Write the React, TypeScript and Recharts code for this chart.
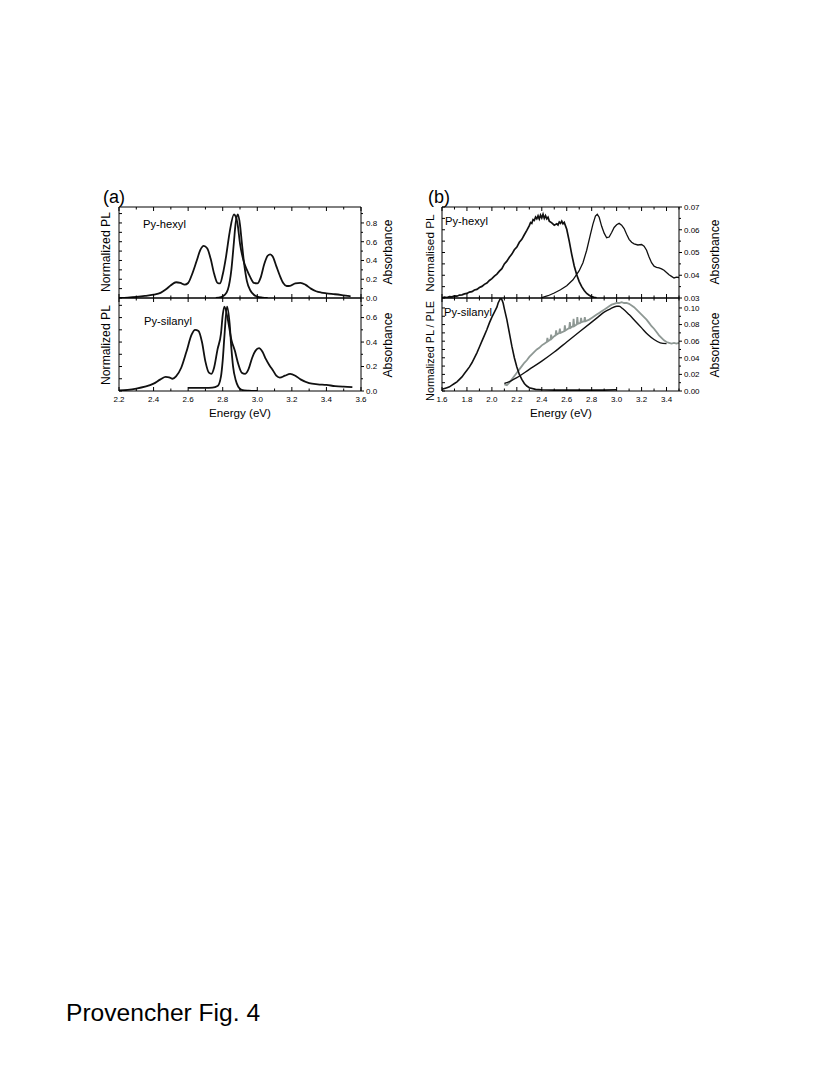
import React from 'react';
import { LineChart, Line, XAxis, YAxis } from 'recharts';

const FONT = '"Liberation Sans", Arial, Helvetica, sans-serif';

// ---- panel (a): Py-hexyl, energy (eV) / value ----
const aHexylBroad: [number, number][] = [
  [2.2, 0.0], [2.25, 0.005], [2.3, 0.012], [2.35, 0.022], [2.4, 0.036], [2.44, 0.055],
  [2.47, 0.09], [2.5, 0.135], [2.53, 0.168], [2.555, 0.16], [2.58, 0.142], [2.6, 0.16],
  [2.62, 0.24], [2.65, 0.4], [2.67, 0.51], [2.69, 0.555], [2.71, 0.53], [2.73, 0.42],
  [2.75, 0.26], [2.77, 0.16], [2.785, 0.155], [2.8, 0.25], [2.82, 0.45], [2.84, 0.7],
  [2.865, 0.89], [2.885, 0.8], [2.9, 0.58], [2.92, 0.4], [2.94, 0.3], [2.96, 0.22],
  [2.98, 0.16], [3.0, 0.155], [3.02, 0.22], [3.04, 0.36], [3.06, 0.45], [3.075, 0.466],
  [3.09, 0.44], [3.11, 0.34], [3.13, 0.24], [3.15, 0.16], [3.17, 0.128], [3.19, 0.13],
  [3.22, 0.155], [3.25, 0.162], [3.28, 0.14], [3.31, 0.1], [3.34, 0.072], [3.37, 0.058],
  [3.4, 0.05], [3.45, 0.04], [3.5, 0.028], [3.54, 0.018],
];
const aHexylNarrow: [number, number][] = [
  [2.76, 0.0], [2.79, 0.01], [2.81, 0.03], [2.83, 0.09], [2.85, 0.3], [2.865, 0.6],
  [2.875, 0.8], [2.888, 0.89], [2.9, 0.78], [2.91, 0.6], [2.925, 0.35], [2.94, 0.18],
  [2.96, 0.08], [2.98, 0.035], [3.0, 0.015], [3.03, 0.005], [3.06, 0.0],
];

// ---- panel (a): Py-silanyl ----
const aSilanylBroad: [number, number][] = [
  [2.2, 0.005], [2.25, 0.01], [2.3, 0.02], [2.35, 0.035], [2.4, 0.06], [2.44, 0.095],
  [2.47, 0.115], [2.49, 0.112], [2.51, 0.1], [2.53, 0.12], [2.56, 0.19], [2.59, 0.32],
  [2.62, 0.46], [2.64, 0.5], [2.66, 0.49], [2.68, 0.4], [2.7, 0.24], [2.72, 0.15],
  [2.735, 0.14], [2.75, 0.19], [2.77, 0.34], [2.79, 0.47], [2.8, 0.62], [2.81, 0.69],
  [2.83, 0.58], [2.85, 0.42], [2.87, 0.33], [2.89, 0.22], [2.91, 0.15], [2.93, 0.14],
  [2.95, 0.18], [2.97, 0.27], [2.99, 0.33], [3.01, 0.35], [3.03, 0.32], [3.05, 0.26],
  [3.07, 0.21], [3.09, 0.17], [3.11, 0.125], [3.13, 0.11], [3.16, 0.125], [3.19, 0.14],
  [3.22, 0.125], [3.25, 0.095], [3.3, 0.065], [3.35, 0.055], [3.4, 0.05], [3.45, 0.04],
  [3.5, 0.035], [3.55, 0.032],
];
const aSilanylNarrow: [number, number][] = [
  [2.6, 0.025], [2.65, 0.025], [2.7, 0.025], [2.74, 0.027], [2.77, 0.04], [2.79, 0.12],
  [2.8, 0.25], [2.81, 0.45], [2.825, 0.69], [2.84, 0.55], [2.85, 0.35], [2.86, 0.2],
  [2.875, 0.09], [2.89, 0.035], [2.91, 0.01], [2.95, 0.003], [3.0, 0.0],
];

// ---- panel (b): Py-hexyl ----
const bHexylPL: [number, number][] = [
  [1.6, 0.0301], [1.62, 0.0304], [1.64, 0.0302], [1.66, 0.0306], [1.68, 0.0305], [1.7, 0.0309],
  [1.72, 0.0308], [1.74, 0.0313], [1.76, 0.0314], [1.78, 0.0318], [1.8, 0.032], [1.82, 0.0326],
  [1.84, 0.0328], [1.86, 0.0335], [1.88, 0.0338], [1.9, 0.0346], [1.92, 0.0351], [1.94, 0.036],
  [1.96, 0.0366], [1.98, 0.0377], [2.0, 0.0385], [2.02, 0.0396], [2.04, 0.0405], [2.06, 0.0418],
  [2.08, 0.0429], [2.1, 0.045], [2.12, 0.0462], [2.14, 0.0479], [2.16, 0.0493], [2.18, 0.0512],
  [2.2, 0.0524], [2.22, 0.0545], [2.24, 0.0558], [2.26, 0.0578], [2.28, 0.0597], [2.3, 0.0618],
  [2.31, 0.0632], [2.32, 0.0628], [2.33, 0.0645], [2.34, 0.0641], [2.35, 0.0656], [2.36, 0.0648],
  [2.37, 0.0661], [2.38, 0.0647], [2.39, 0.0664], [2.4, 0.0652], [2.41, 0.0668], [2.42, 0.065],
  [2.43, 0.0662], [2.44, 0.0648], [2.45, 0.0655], [2.46, 0.0638], [2.48, 0.063], [2.5, 0.062],
  [2.52, 0.0626], [2.53, 0.0621], [2.54, 0.0634], [2.55, 0.0628], [2.56, 0.0638], [2.57, 0.0626],
  [2.58, 0.0632], [2.6, 0.0602], [2.62, 0.055], [2.64, 0.0492], [2.66, 0.0441],
  [2.68, 0.0402], [2.7, 0.0372], [2.72, 0.035], [2.74, 0.0333], [2.76, 0.032], [2.78, 0.0312],
  [2.8, 0.0306], [2.82, 0.0303], [2.84, 0.0301],
];
const bHexylAbs: [number, number][] = [
  [2.4, 0.0302], [2.45, 0.031], [2.5, 0.0322], [2.55, 0.0336], [2.6, 0.0354], [2.65, 0.038],
  [2.7, 0.042], [2.73, 0.0455], [2.76, 0.051], [2.79, 0.058], [2.81, 0.0625], [2.83, 0.066],
  [2.845, 0.0668], [2.86, 0.0655], [2.88, 0.0615], [2.9, 0.0585], [2.92, 0.0565], [2.94, 0.0568],
  [2.96, 0.0588], [2.98, 0.061], [3.0, 0.0622], [3.02, 0.0628], [3.04, 0.062], [3.06, 0.0605],
  [3.08, 0.058], [3.1, 0.0558], [3.12, 0.0545], [3.14, 0.0538], [3.17, 0.0533], [3.2, 0.0535],
  [3.22, 0.0528], [3.24, 0.051], [3.26, 0.048], [3.28, 0.0455], [3.3, 0.044], [3.32, 0.0435],
  [3.34, 0.0432], [3.36, 0.0428], [3.38, 0.0422], [3.4, 0.0412], [3.42, 0.0402], [3.44, 0.0395],
  [3.46, 0.0388], [3.48, 0.0392], [3.5, 0.039],
];

// ---- panel (b): Py-silanyl ----
const bSilanylPL: [number, number][] = [
  [1.6, 0.002], [1.62, 0.003], [1.64, 0.004], [1.66, 0.005], [1.68, 0.007], [1.7, 0.009],
  [1.72, 0.011], [1.74, 0.014], [1.76, 0.017], [1.78, 0.021], [1.8, 0.025], [1.82, 0.029],
  [1.84, 0.034], [1.86, 0.04], [1.88, 0.046], [1.9, 0.053], [1.92, 0.06], [1.94, 0.067],
  [1.96, 0.074], [1.98, 0.082], [2.0, 0.089], [2.02, 0.095], [2.04, 0.101], [2.05, 0.106],
  [2.06, 0.109], [2.07, 0.112], [2.08, 0.11], [2.09, 0.106], [2.1, 0.099], [2.12, 0.086],
  [2.14, 0.07], [2.16, 0.054], [2.18, 0.04], [2.2, 0.029], [2.22, 0.02], [2.24, 0.014],
  [2.26, 0.009], [2.28, 0.006], [2.3, 0.004], [2.35, 0.002], [2.4, 0.0015], [2.5, 0.001],
  [2.6, 0.0012], [2.7, 0.001], [2.8, 0.0012], [2.9, 0.001], [3.0, 0.0015],
];
const bSilanylAbs: [number, number][] = [
  [2.1, 0.009], [2.12, 0.01], [2.15, 0.012], [2.2, 0.016], [2.3, 0.026], [2.4, 0.036],
  [2.5, 0.047], [2.6, 0.059], [2.7, 0.071], [2.8, 0.083], [2.85, 0.089], [2.9, 0.095],
  [2.95, 0.099], [3.0, 0.102], [3.02, 0.102], [3.05, 0.099], [3.1, 0.092], [3.15, 0.084],
  [3.2, 0.076], [3.25, 0.068], [3.3, 0.062], [3.35, 0.058], [3.4, 0.057],
];
const bSilanylPLE: [number, number][] = [
  [2.1, 0.008], [2.12, 0.007], [2.14, 0.01], [2.16, 0.014], [2.18, 0.018], [2.2, 0.022],
  [2.22, 0.026], [2.24, 0.03], [2.26, 0.034], [2.28, 0.037], [2.3, 0.041], [2.32, 0.044],
  [2.34, 0.047], [2.36, 0.05], [2.38, 0.052], [2.4, 0.055], [2.42, 0.057], [2.44, 0.059],
  [2.445, 0.064], [2.45, 0.06], [2.47, 0.062], [2.475, 0.068], [2.48, 0.063], [2.5, 0.066],
  [2.51, 0.067], [2.515, 0.073], [2.52, 0.068], [2.54, 0.07], [2.545, 0.075], [2.55, 0.07],
  [2.58, 0.072], [2.585, 0.079], [2.59, 0.073], [2.62, 0.076], [2.625, 0.083], [2.63, 0.076],
  [2.65, 0.078], [2.655, 0.087], [2.66, 0.078], [2.68, 0.08], [2.685, 0.089], [2.69, 0.081],
  [2.71, 0.082], [2.715, 0.088], [2.72, 0.083], [2.74, 0.084], [2.745, 0.089], [2.75, 0.084],
  [2.78, 0.086], [2.8, 0.088], [2.82, 0.09], [2.84, 0.092], [2.86, 0.094], [2.88, 0.096],
  [2.9, 0.098], [2.92, 0.1], [2.94, 0.102], [2.96, 0.104], [2.98, 0.105], [3.0, 0.106],
  [3.02, 0.106], [3.04, 0.107], [3.06, 0.106], [3.08, 0.106], [3.1, 0.105], [3.12, 0.103],
  [3.14, 0.101], [3.16, 0.098], [3.18, 0.095], [3.2, 0.092], [3.22, 0.089], [3.24, 0.086],
  [3.26, 0.082], [3.28, 0.078], [3.3, 0.075], [3.32, 0.071], [3.34, 0.067], [3.36, 0.064],
  [3.38, 0.061], [3.4, 0.059], [3.42, 0.058], [3.44, 0.057], [3.46, 0.058], [3.48, 0.057],
  [3.5, 0.058],
];

// ---- tick labels ----
const aXMajor = [2.2, 2.4, 2.6, 2.8, 3.0, 3.2, 3.4, 3.6];
const aXMinor = [2.3, 2.5, 2.7, 2.9, 3.1, 3.3, 3.5];
const bXMajor = [1.6, 1.8, 2.0, 2.2, 2.4, 2.6, 2.8, 3.0, 3.2, 3.4];
const bXMinor = [1.7, 1.9, 2.1, 2.3, 2.5, 2.7, 2.9, 3.1, 3.3, 3.5];
const aTopYMajor = [0, 0.2, 0.4, 0.6, 0.8];
const aTopYMinor = [0.1, 0.3, 0.5, 0.7, 0.9];
const aBotYMajor = [0, 0.2, 0.4, 0.6];
const aBotYMinor = [0.1, 0.3, 0.5, 0.7];
const bTopYMajor = [0.03, 0.04, 0.05, 0.06, 0.07];
const bTopYMinor = [0.035, 0.045, 0.055, 0.065];
const bBotYMajor = [0, 0.02, 0.04, 0.06, 0.08, 0.1];
const bBotYMinor = [0.01, 0.03, 0.05, 0.07, 0.09];

const rows = (pts: [number, number][]) => pts.map(([x, y]) => ({ x, y }));
const isMajor = (v: number, majors: number[]) => majors.some((m) => Math.abs(m - v) < 1e-6);

interface Series {
  data: [number, number][];
  color: string;
  width: number;
  smooth?: boolean;
}

interface PanelProps {
  left: number;
  top: number;
  w: number;
  h: number;
  xDomain: [number, number];
  xMajor: number[];
  xMinor: number[];
  yDomain: [number, number];
  yMajor: number[];
  yMinor: number[];
  yDigits: number;
  showX: boolean;
  series: Series[];
}

function Panel({ left, top, w, h, xDomain, xMajor, xMinor, yDomain, yMajor, yMinor, yDigits, showX, series }: PanelProps) {
  const leftW = 6;
  const rightW = 36;
  const topH = 6;
  const bottomH = showX ? 16 : 6;
  const xTicks = [...xMajor, ...xMinor].sort((a, b) => a - b);
  const yTicks = [...yMajor, ...yMinor].sort((a, b) => a - b);
  const txt = { fontFamily: FONT, fontSize: 8, fill: '#000' };

  return (
    <div style={{ position: 'absolute', left: left - leftW, top: top - topH }}>
      <LineChart width={leftW + w + rightW} height={topH + h + bottomH} margin={{ top: 0, right: 0, bottom: 0, left: 0 }}>
        <XAxis
          xAxisId="bottom"
          type="number"
          dataKey="x"
          orientation="bottom"
          domain={xDomain}
          ticks={xTicks}
          interval={0}
          height={bottomH}
          tickSize={0}
          tickMargin={0}
          tickLine={false}
          axisLine={{ stroke: '#000', strokeWidth: 1 }}
          allowDataOverflow
          tick={(p: any) => {
            const major = isMajor(p.payload.value, xMajor);
            return (
              <g>
                <line x1={p.x} y1={p.y} x2={p.x} y2={p.y - (major ? 4 : 2.5)} stroke="#000" />
                {showX && major && (
                  <text x={p.x} y={p.y + 10.5} textAnchor="middle" {...txt}>
                    {p.payload.value.toFixed(1)}
                  </text>
                )}
              </g>
            );
          }}
        />
        <XAxis
          xAxisId="top"
          type="number"
          dataKey="x"
          orientation="top"
          domain={xDomain}
          ticks={xTicks}
          interval={0}
          height={topH}
          tickSize={0}
          tickMargin={0}
          tickLine={false}
          axisLine={{ stroke: '#000', strokeWidth: 1 }}
          allowDataOverflow
          tick={(p: any) => {
            const major = isMajor(p.payload.value, xMajor);
            return <line x1={p.x} y1={p.y} x2={p.x} y2={p.y + (major ? 4 : 2.5)} stroke="#000" />;
          }}
        />
        <YAxis
          yAxisId="left"
          type="number"
          orientation="left"
          domain={yDomain}
          ticks={yTicks}
          interval={0}
          width={leftW}
          tickSize={0}
          tickMargin={0}
          tickLine={false}
          axisLine={{ stroke: '#000', strokeWidth: 1 }}
          allowDataOverflow
          tick={(p: any) => <line x1={p.x} y1={p.y} x2={p.x + 3} y2={p.y} stroke="#000" />}
        />
        <YAxis
          yAxisId="right"
          type="number"
          orientation="right"
          domain={yDomain}
          ticks={yTicks}
          interval={0}
          width={rightW}
          tickSize={0}
          tickMargin={0}
          tickLine={false}
          axisLine={{ stroke: '#000', strokeWidth: 1 }}
          allowDataOverflow
          tick={(p: any) => {
            const major = isMajor(p.payload.value, yMajor);
            return (
              <g>
                <line x1={p.x} y1={p.y} x2={p.x + (major ? 3 : 2)} y2={p.y} stroke="#000" />
                {major && (
                  <text x={p.x + 5} y={p.y + 2.8} textAnchor="start" {...txt}>
                    {p.payload.value.toFixed(yDigits)}
                  </text>
                )}
              </g>
            );
          }}
        />
        {series.map((s, i) => (
          <Line
            key={i}
            xAxisId="bottom"
            yAxisId="right"
            data={rows(s.data)}
            dataKey="y"
            type={s.smooth ? 'monotone' : 'linear'}
            stroke={s.color}
            strokeWidth={s.width}
            dot={false}
            activeDot={false}
            isAnimationActive={false}
          />
        ))}
      </LineChart>
    </div>
  );
}

const vText = (x: number, y: number, label: string, size = 12.2) => (
  <text
    x={x}
    y={y}
    transform={`rotate(-90 ${x} ${y})`}
    textAnchor="middle"
    dy="0.35em"
    fontFamily={FONT}
    fontSize={size}
    fill="#000"
  >
    {label}
  </text>
);

export default function App() {
  return (
    <div style={{ position: 'absolute', left: 0, top: 0, width: 830, height: 1075, background: '#fff', fontFamily: FONT }}>
      <Panel
        left={119} top={207} w={242} h={91}
        xDomain={[2.2, 3.6]} xMajor={aXMajor} xMinor={aXMinor}
        yDomain={[0, 0.97]} yMajor={aTopYMajor} yMinor={aTopYMinor} yDigits={1}
        showX={false}
        series={[
          { data: aHexylBroad, color: '#111', width: 1.8, smooth: true },
          { data: aHexylNarrow, color: '#111', width: 1.8, smooth: true },
        ]}
      />
      <Panel
        left={119} top={298} w={242} h={93}
        xDomain={[2.2, 3.6]} xMajor={aXMajor} xMinor={aXMinor}
        yDomain={[0, 0.76]} yMajor={aBotYMajor} yMinor={aBotYMinor} yDigits={1}
        showX
        series={[
          { data: aSilanylBroad, color: '#111', width: 1.8, smooth: true },
          { data: aSilanylNarrow, color: '#111', width: 1.8, smooth: true },
        ]}
      />
      <Panel
        left={442} top={207} w={237} h={91}
        xDomain={[1.6, 3.5]} xMajor={bXMajor} xMinor={bXMinor}
        yDomain={[0.03, 0.07]} yMajor={bTopYMajor} yMinor={bTopYMinor} yDigits={2}
        showX={false}
        series={[
          { data: bHexylPL, color: '#111', width: 1.7 },
          { data: bHexylAbs, color: '#111', width: 1.3 },
        ]}
      />
      <Panel
        left={442} top={298} w={237} h={93}
        xDomain={[1.6, 3.5]} xMajor={bXMajor} xMinor={bXMinor}
        yDomain={[0, 0.112]} yMajor={bBotYMajor} yMinor={bBotYMinor} yDigits={2}
        showX
        series={[
          { data: bSilanylPLE, color: '#8e9894', width: 1.8 },
          { data: bSilanylPL, color: '#111', width: 1.6 },
          { data: bSilanylAbs, color: '#111', width: 1.4, smooth: true },
        ]}
      />

      <svg width={830} height={1075} style={{ position: 'absolute', left: 0, top: 0, pointerEvents: 'none' }}>
        <g fontFamily={FONT} fill="#000">
          <text x={103} y={203} fontSize={18}>(a)</text>
          <text x={428} y={203} fontSize={18}>(b)</text>
          <text x={143} y={228} fontSize={11.2}>Py-hexyl</text>
          <text x={144} y={325} fontSize={11.2}>Py-silanyl</text>
          <text x={445} y={225} fontSize={11.2}>Py-hexyl</text>
          <text x={444} y={316} fontSize={11.2}>Py-silanyl</text>
          <text x={240} y={417} fontSize={11.6} textAnchor="middle">Energy (eV)</text>
          <text x={561} y={417} fontSize={11.6} textAnchor="middle">Energy (eV)</text>
          <text x={66} y={1021} fontSize={24.6}>Provencher Fig. 4</text>
        </g>
        {vText(106, 252, 'Normalized PL')}
        {vText(106, 345, 'Normalized PL')}
        {vText(388, 252, 'Absorbance')}
        {vText(388, 345, 'Absorbance')}
        {vText(430, 253, 'Normalised PL', 11.8)}
        {vText(430, 351, 'Normalized PL / PLE', 10.8)}
        {vText(715, 252, 'Absorbance')}
        {vText(715, 345, 'Absorbance')}
      </svg>
    </div>
  );
}
